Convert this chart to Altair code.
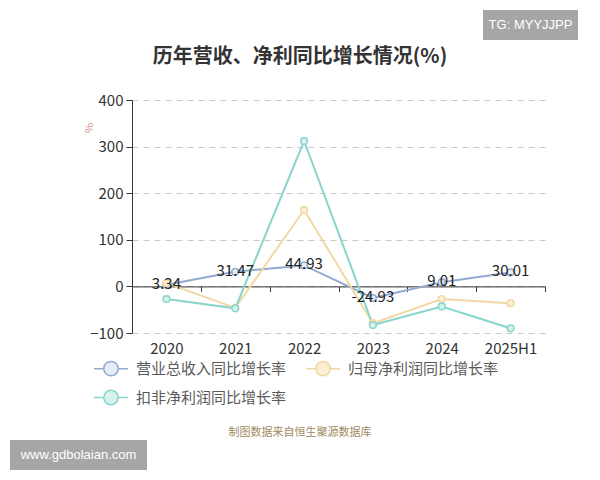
import altair as alt
import pandas as pd

years = ["2020", "2021", "2022", "2023", "2024", "2025H1"]
series_names = ["营业总收入同比增长率", "归母净利润同比增长率", "扣非净利润同比增长率"]
revenue = [3.34, 31.47, 44.93, -24.93, 9.01, 30.01]
parent_profit = [7, -46, 164, -79, -27, -36]
deducted_profit = [-27, -47, 312, -83, -43, -90]
line_colors = ["#92a9d2", "#f2d8a4", "#88d5cc"]
fill_colors = ["#e6ecf6", "#fbeed3", "#d6f2ee"]

rows = []
for name, vals in zip(series_names, [revenue, parent_profit, deducted_profit]):
    for y, v in zip(years, vals):
        rows.append({"year": y, "series": name, "value": v})
df = pd.DataFrame(rows)
label_df = df[df["series"] == series_names[0]].copy()
label_df["label"] = [f"{v:.2f}" for v in revenue]

FONT = "Noto Sans CJK SC"

x = alt.X("year:N", sort=years, title=None,
          scale=alt.Scale(paddingInner=0, paddingOuter=0),
          axis=alt.Axis(orient="bottom", offset=-46.6, labelAngle=0, labelFontSize=15,
                        labelColor="#333", labelFont=FONT, labelPadding=50,
                        tickBand="extent", tickSize=5, tickColor="#333",
                        domainColor="#333", grid=False))
y = alt.Y("value:Q", title=None,
          scale=alt.Scale(domain=[-100, 400], nice=False, zero=False),
          axis=alt.Axis(values=[-100, 0, 100, 200, 300, 400], labelFontSize=15,
                        labelColor="#333", labelFont=FONT, labelPadding=3,
                        tickSize=6, tickColor="#333", domainColor="#333",
                        grid=True, gridDash=[6, 5], gridColor="#c8c8c8"))

sym_path = "M-2,0L-0.85,0M0.85,0L2,0M0.85,0A0.85,0.85,0,1,1,-0.85,0A0.85,0.85,0,1,1,0.85,0Z"

stroke = alt.Stroke("series:N", sort=series_names,
                    scale=alt.Scale(domain=series_names, range=line_colors),
                    legend=alt.Legend(title=None, orient="none", legendX=-30.5, legendY=259,
                                      columns=2, direction="horizontal",
                                      symbolType=sym_path, symbolSize=289,
                                      symbolStrokeWidth=1.5, symbolFillColor="#f6f9fc",
                                      labelFontSize=15, labelColor="#5a5a5a", labelFont=FONT,
                                      labelOffset=15.5, rowPadding=8, columnPadding=16,
                                      padding=0))
fill = alt.Fill("series:N", sort=series_names,
                scale=alt.Scale(domain=series_names, range=fill_colors), legend=None)

base = alt.Chart(df)
lines = base.mark_line(strokeWidth=2).encode(x=x, y=y, stroke=stroke,
                                             order=alt.Order("year:N"))
points = base.mark_point(filled=False, size=45, strokeWidth=1.5, opacity=1).encode(
    x=x, y=y, stroke=stroke, fill=fill)
labels = alt.Chart(label_df).mark_text(fontSize=15, font=FONT, color="#222",
                                       baseline="middle", dy=-1).encode(
    x=x, y=y, text="label:N")

one = alt.Data(values=[{"a": 1}])
title = alt.Chart(one).mark_text(text="历年营收、净利同比增长情况(%)", fontSize=20, fontWeight="bold",
                                 font=FONT, color="#333", align="center", baseline="middle").encode(
    x=alt.value(168), y=alt.value(-43))
unit = alt.Chart(one).mark_text(text="%", fontSize=11, font=FONT, color="#d48a8a", angle=270,
                                align="center", baseline="middle").encode(
    x=alt.value(-42), y=alt.value(28))
source = alt.Chart(one).mark_text(text="制图数据来自恒生聚源数据库", fontSize=11, font=FONT,
                                  color="#a08a5f", align="center", baseline="middle").encode(
    x=alt.value(168), y=alt.value(333))
tg_box = alt.Chart(one).mark_rect(color="#a6a6a6").encode(
    x=alt.value(351), x2=alt.value(446), y=alt.value(-90), y2=alt.value(-60))
tg_text = alt.Chart(one).mark_text(text="TG: MYYJJPP", fontSize=13, font="Liberation Sans",
                                   color="white", align="center", baseline="middle").encode(
    x=alt.value(398.5), y=alt.value(-75))
www_box = alt.Chart(one).mark_rect(color="#a6a6a6").encode(
    x=alt.value(-122), x2=alt.value(15), y=alt.value(340), y2=alt.value(370))
www_text = alt.Chart(one).mark_text(text="www.gdbolaian.com", fontSize=13, font="Liberation Sans",
                                    color="white", align="center", baseline="middle").encode(
    x=alt.value(-53.5), y=alt.value(355))

chart = alt.layer(lines, points, labels, title, unit, source, tg_box, tg_text, www_box, www_text).properties(
    width=413, height=233, autosize="none",
    padding={"left": 124, "top": 92, "right": 40, "bottom": 138}
).configure_view(stroke=None)

chart.save("out.html", embed_options={"renderer": "svg", "actions": False})
